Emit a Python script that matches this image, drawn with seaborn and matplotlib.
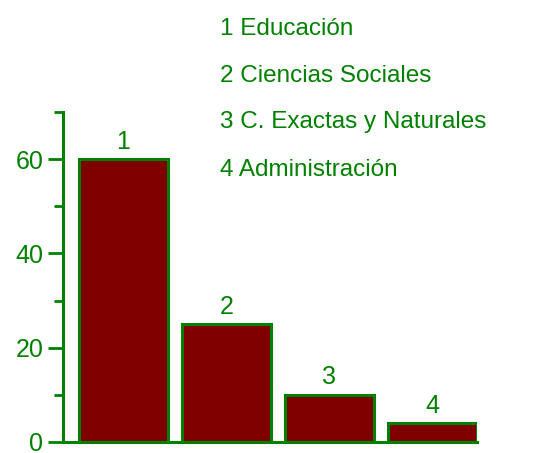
import pandas as pd
import matplotlib
matplotlib.use("Agg")
import matplotlib.pyplot as plt
import seaborn as sns
from matplotlib.ticker import MultipleLocator

# data
codes = ["1", "2", "3", "4"]
areas = ["Educación", "Ciencias Sociales", "C. Exactas y Naturales", "Administración"]
values = [60, 25, 10, 4]

GREEN = "#008000"
BAR = "#800000"

sns.set_style("white")
plt.rcParams["font.family"] = ["Liberation Sans", "DejaVu Sans"]

df = pd.DataFrame({"code": codes, "area": areas, "value": values})

fig = plt.figure(figsize=(5.48, 4.53), dpi=100)
ax = fig.add_axes([0.115, 0.0243, 0.755, 0.7285])

sns.barplot(data=df, x="code", y="value", color=BAR, saturation=1,
            edgecolor=GREEN, linewidth=2.2, width=0.855, ax=ax)

ax.bar_label(ax.containers[0], labels=codes, padding=4, color=GREEN, fontsize=18)

ax.set_xlim(-0.587, 3.43)
ax.set_ylim(0, 70)
ax.set_xlabel("")
ax.set_ylabel("")
ax.set_xticks([])
ax.yaxis.set_major_locator(MultipleLocator(20))
ax.yaxis.set_minor_locator(MultipleLocator(10))
ax.tick_params(axis="y", which="major", length=10.8, width=2, color=GREEN,
               labelcolor=GREEN, labelsize=18, pad=3.5, left=True)
ax.tick_params(axis="y", which="minor", length=6.5, width=2, color=GREEN, left=True)
for side in ["top", "right"]:
    ax.spines[side].set_visible(False)
for side in ["left", "bottom"]:
    ax.spines[side].set_color(GREEN)
    ax.spines[side].set_linewidth(2.2)

# legend-like list of areas
baselines = [35, 81.7, 128.3, 175.7]
for code, area, yb in zip(codes, areas, baselines):
    fig.text(220 / 548, 1 - yb / 453, f"{code} {area}", color=GREEN,
             fontsize=17.5, va="baseline", ha="left")

fig.savefig("out.png", dpi=100)
